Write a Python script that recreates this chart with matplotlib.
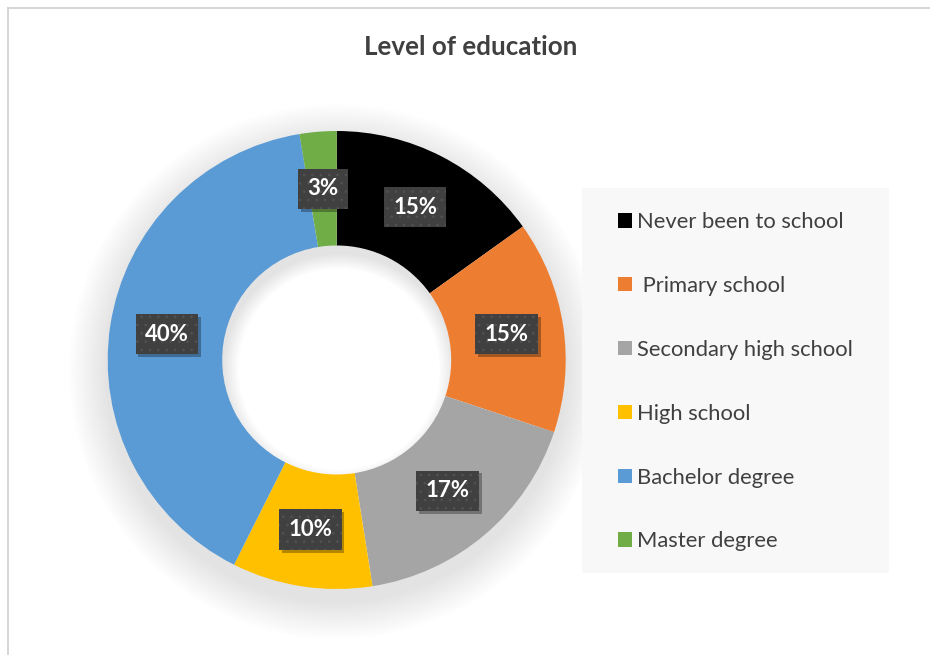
import matplotlib
matplotlib.use('Agg')
import matplotlib.pyplot as plt
import matplotlib.patheffects as pe
from matplotlib.patches import Wedge, Circle, Rectangle
from matplotlib.lines import Line2D
from matplotlib.path import Path

title = 'Level of education'
categories = ['Never been to school', ' Primary school', 'Secondary high school',
              'High school', 'Bachelor degree', 'Master degree']
shares = [15.1, 15.0, 17.4, 9.9, 40.0, 2.6]
colors = ['#000000', '#ED7D31', '#A5A5A5', '#FFC000', '#5B9BD5', '#70AD47']

plt.rcParams['font.family'] = ['Lato', 'DejaVu Sans']
plt.rcParams['hatch.linewidth'] = 0.6


def label_box(x0, y0, width, height, mutation_size):
    # rectangle with more padding top/bottom than left/right
    px, py = 0.42 * mutation_size, 0.44 * mutation_size
    x0, y0, x1, y1 = x0 - px, y0 - py, x0 + width + px, y0 + height + py
    return Path([(x0, y0), (x1, y0), (x1, y1), (x0, y1), (x0, y0)], closed=True)


class BoxShadow(pe.AbstractPathEffect):
    def __init__(self, offset=(2, -2), alpha=0.35):
        super().__init__(offset)
        self.alpha = alpha

    def draw_path(self, renderer, gc, tpath, affine, rgbFace):
        gc0 = renderer.new_gc()
        gc0.copy_properties(gc)
        gc0.set_hatch(None)
        gc0.set_linewidth(0)
        gc0.set_alpha(self.alpha)
        renderer.draw_path(gc0, tpath, affine + self._offset_transform(renderer), (0, 0, 0))
        gc0.restore()


W, H = 930, 655
fig = plt.figure(figsize=(W / 100, H / 100), dpi=100)

# chart area frame (only left and top edges are inside the picture)
fig.add_artist(Line2D([8 / W, 8 / W], [0, 1 - 8 / H], color='#d0d0d0', lw=1.2))
fig.add_artist(Line2D([8 / W, 1], [1 - 8 / H, 1 - 8 / H], color='#d0d0d0', lw=1.2))

fig.text(471 / W, 1 - 47 / H, title, ha='center', va='center',
         fontsize=18.7, fontweight='bold', color='#404040')

# donut axes: centre and radius in pixels
cx, cy, R, L = 336.7, 360, 229, 1.35
ax = fig.add_axes([(cx - L * R) / W, (H - cy - L * R) / H, 2 * L * R / W, 2 * L * R / H])

# soft outer shadow
n = 14
for i in range(n):
    r = 1.0 + 0.012 * (n - i)
    ax.add_patch(Wedge((0.0, -0.05), r, 0, 360, width=r - 0.9,
                       fc='black', alpha=0.007, lw=0))

wedges, _, autotexts = ax.pie(
    shares, colors=colors, startangle=90, counterclock=False, radius=1,
    autopct='%1.0f%%', pctdistance=0.75,
    wedgeprops=dict(width=0.5, linewidth=0),
    textprops=dict(color='white', fontsize=16, fontweight='bold'))

# inner shadow in the hole
hole = Circle((0, 0), 0.5, transform=ax.transData)
for k in range(7):
    w = Wedge((0.01, -0.04), 0.62, 0, 360, width=0.62 - (0.5 - 0.01 * k),
              fc='black', alpha=0.016, lw=0)
    ax.add_patch(w)
    w.set_clip_path(hole)

for t in autotexts:
    t.set_bbox(dict(boxstyle=label_box, fc='#404040', ec='#535353',
                    lw=0, hatch='..'))
    t.get_bbox_patch().set_path_effects([BoxShadow((2, -2), 0.3), pe.Normal()])

ax.set_xlim(-L, L)
ax.set_ylim(-L, L)
ax.axis('off')

# legend panel
fig.add_artist(Rectangle((582 / W, 1 - 573 / H), 307 / W, 385 / H,
                         transform=fig.transFigure, fc='#f8f8f8', ec='none'))
fig.legend(wedges, categories, loc='upper left',
           bbox_to_anchor=(618 / W, 1 - 212 / H), frameon=False,
           fontsize=15.8, labelcolor='#404040', handlelength=0.64,
           handleheight=0.64, handletextpad=0.22, labelspacing=2.0,
           borderpad=0, borderaxespad=0)

fig.savefig('out.png', dpi=100)
